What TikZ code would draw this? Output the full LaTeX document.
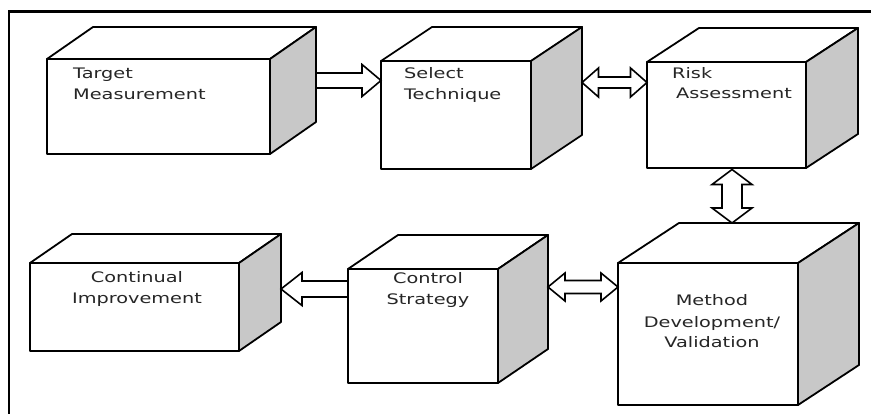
\documentclass[tikz,border=0pt]{standalone}
\usepackage{fontspec}
\setmainfont{DejaVu Sans}[FakeStretch=1.33]
\usetikzlibrary{calc}

\definecolor{sidegray}{HTML}{C8C8C8}
\definecolor{inkgray}{HTML}{262626}

\tikzset{
  edge/.style={line width=1.8pt, line join=round},
  face/.style={edge, draw, fill=white, inner sep=0pt, outer sep=0pt, anchor=north west},
  blk/.style={line width=1.6pt, line join=miter, miter limit=4, fill=white},
  lbl/.style={inner sep=0pt, text=inkgray, font=\fontsize{14.5pt}{21pt}\selectfont},
}

% 3D box: name, front x1, y1, x2, y2, depth dx, dy
\newcommand\cubebox[7]{%
  \node[face, minimum width={#4pt-#2pt}, minimum height={#5pt-#3pt}] (#1) at (#2,#3) {};
  \draw[edge, fill=white] (#1.north west) -- ++(#6,#7)
    -- ([shift={(#6,#7)}]#1.north east) -- (#1.north east) -- cycle;
  \draw[edge, fill=sidegray] (#1.north east) -- ++(#6,#7)
    -- ([shift={(#6,#7)}]#1.south east) -- (#1.south east) -- cycle;
}

% horizontal block arrow: tail, tip, shaft half width, head half width, head length
\newcommand\hsingle[5]{%
  \draw[blk] let \p1=(#1), \p2=(#2), \n1={ifthenelse(\x2>\x1,1,-1)} in
    (\x1,\y2+#3) -- (\x2-\n1*#5,\y2+#3) -- (\x2-\n1*#5,\y2+#4) -- (\x2,\y2)
    -- (\x2-\n1*#5,\y2-#4) -- (\x2-\n1*#5,\y2-#3) -- (\x1,\y2-#3) -- cycle;
}

% horizontal double block arrow: left tip, right tip, shaft half, head half, head length
\newcommand\hdouble[5]{%
  \draw[blk] let \p1=(#1), \p2=(#2) in
    (\x1,\y2) -- (\x1+#5,\y2+#4) -- (\x1+#5,\y2+#3) -- (\x2-#5,\y2+#3)
    -- (\x2-#5,\y2+#4) -- (\x2,\y2) -- (\x2-#5,\y2-#4) -- (\x2-#5,\y2-#3)
    -- (\x1+#5,\y2-#3) -- (\x1+#5,\y2-#4) -- cycle;
}

% vertical double block arrow: top tip, bottom tip, shaft half, head half, head length
\newcommand\vdouble[5]{%
  \draw[blk] let \p1=(#1), \p2=(#2) in
    (\x1,\y1) -- (\x1+#4,\y1-#5) -- (\x1+#3,\y1-#5) -- (\x1+#3,\y2+#5)
    -- (\x1+#4,\y2+#5) -- (\x1,\y2) -- (\x1-#4,\y2+#5) -- (\x1-#3,\y2+#5)
    -- (\x1-#3,\y1-#5) -- (\x1-#4,\y1-#5) -- cycle;
}

\begin{document}
\begin{tikzpicture}[x=1pt, y=-1pt]
  \useasboundingbox (0,0) rectangle (871,414);

  % outer frame (left and top rules)
  \draw[line width=2.3pt] (9,414) -- (9,11.5) -- (871,11.5);

  % boxes
  \cubebox{tm}{47}{59}{270}{154}{46}{-32}
  \cubebox{st}{381}{61}{531}{169}{51}{-34}
  \cubebox{ra}{647}{62}{806}{168}{52}{-34}
  \cubebox{ci}{30}{263}{239}{351}{42}{-29}
  \cubebox{cs}{348}{269}{498}{383}{50}{-34}
  \cubebox{md}{618}{263}{798}{405}{61}{-40}

  % labels
  \node[lbl, anchor=base west] (tm1) at (73,79) {Target};
  \node[lbl, anchor=base west] (tm2) at (73,100) {Measurement};
  \node[lbl, anchor=base west] (st1) at (404,79) {Select};
  \node[lbl, anchor=base west] (st2) at (404,100) {Technique};
  \node[lbl, anchor=base west] (ra1) at (672,79) {Risk};
  \node[lbl, anchor=base west] (ra2) at (676,99) {Assessment};
  \node[lbl, anchor=base] (ci1) at (137,283) {Continual};
  \node[lbl, anchor=base] (ci2) at (137,304) {Improvement};
  \node[lbl, anchor=base] (cs1) at (428,284) {Control};
  \node[lbl, anchor=base] (cs2) at (428,305) {Strategy};
  \node[lbl, anchor=base] (md1) at (712,306) {Method};
  \node[lbl, anchor=base] (md2) at (712,327) {Development/};
  \node[lbl, anchor=base] (md3) at (712,348) {Validation};

  % arrow end points on the box surfaces
  \coordinate (a1s) at ($(tm.north east)+(46,21.5)$);
  \coordinate (a1t) at ($(st.north west)+(0,19.5)$);
  \coordinate (a2l) at ($(st.north east)+(51,21.5)$);
  \coordinate (a2r) at ($(ra.north west)+(0,20.5)$);
  \coordinate (a3t) at ($(ra.south west)+(85,1.5)$);
  \coordinate (a3b) at ($(md.north west)+(114,-40)$);
  \coordinate (a4s) at ($(cs.north west)+(0,20)$);
  \coordinate (a4t) at ($(ci.north east)+(42,26)$);
  \coordinate (a5l) at ($(cs.north east)+(50,18)$);
  \coordinate (a5r) at ($(md.north west)+(0,24)$);

  % connectors
  \hsingle{a1s}{a1t}{7.5pt}{16pt}{19pt}
  \hdouble{a2l}{a2r}{5.5pt}{14.5pt}{16.5pt}
  \vdouble{a3t}{a3b}{10pt}{20pt}{15pt}
  \hsingle{a4s}{a4t}{8pt}{16.5pt}{21pt}
  \hdouble{a5l}{a5r}{6.5pt}{14pt}{17pt}
\end{tikzpicture}
\end{document}
